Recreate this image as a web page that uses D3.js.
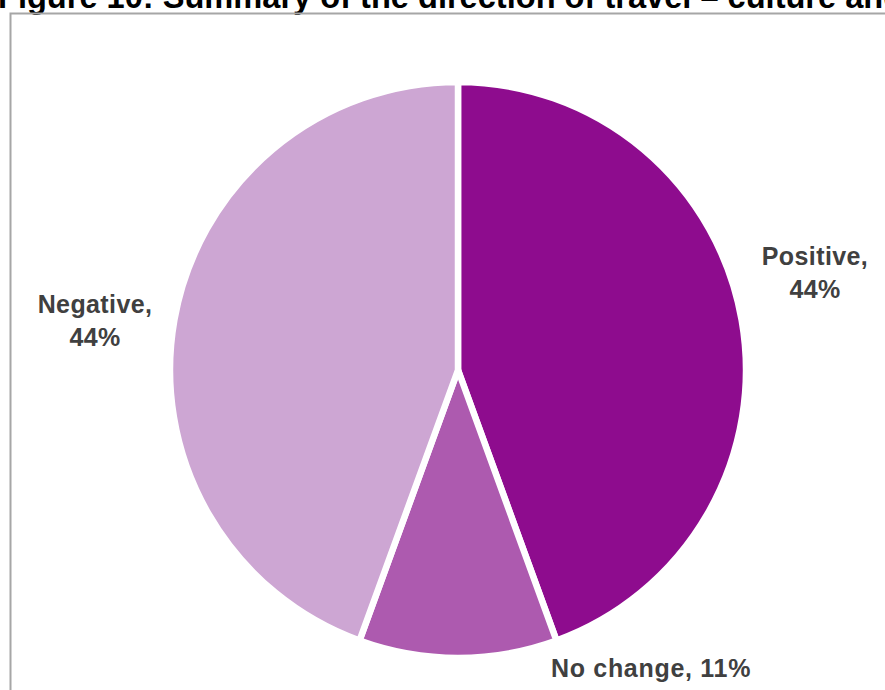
<!DOCTYPE html>
<html>
<head>
<meta charset="utf-8">
<script src="https://cdn.jsdelivr.net/npm/d3@7"></script>
<style>
  html, body { margin: 0; padding: 0; background: #fff; overflow: hidden; }
  svg { display: block; }
</style>
</head>
<body>
<svg id="chart" width="885" height="690"></svg>
<script>
// Direction of travel, share of indicators
const categories = ["Positive", "No change", "Negative"];
const shares = [44, 11, 44];
const sliceColours = ["#8e0c8e", "#ad5aaf", "#cda6d3"];
const titleText = "Figure 10: Summary of the direction of travel \u2013 culture and heritage";

const W = 885, H = 690;
const svg = d3.select("#chart");

// Title (sits partly above the frame)
svg.append("text")
  .attr("x", -2)
  .attr("y", 8)
  .attr("font-family", "Liberation Sans, Arial, sans-serif")
  .attr("font-weight", "bold")
  .attr("font-size", 32.6)
  .attr("fill", "#000")
  .text(titleText);

// Chart frame
svg.append("rect")
  .attr("x", 10.5)
  .attr("y", 13.5)
  .attr("width", 1000)
  .attr("height", 1000)
  .attr("fill", "none")
  .attr("stroke", "#a6a6a6")
  .attr("stroke-width", 2);

const cx = 458, cy = 370, radius = 288;

const pie = d3.pie().sort(null).value(d => d.value);
const arc = d3.arc().innerRadius(0).outerRadius(radius);

const data = categories.map((c, i) => ({ name: c, value: shares[i], colour: sliceColours[i] }));
const arcs = pie(data);

const g = svg.append("g").attr("transform", `translate(${cx},${cy})`);

g.selectAll("path")
  .data(arcs)
  .join("path")
  .attr("d", arc)
  .attr("fill", d => d.data.colour)
  .attr("stroke", "#fff")
  .attr("stroke-width", 6.5)
  .attr("stroke-linejoin", "miter");

// Data labels, placed outside the pie next to each slice
const labelLayout = {
  "Positive": { dx: 357, dy: -105, lines: 2, spacing: 0.4 },
  "No change": { dx: 193, dy: 307, lines: 1, spacing: 0.7 },
  "Negative": { dx: -363, dy: -57, lines: 2, spacing: 0.4 }
};

const labelFont = { family: "Liberation Sans, Arial, sans-serif", size: 25 };

arcs.forEach(a => {
  const lay = labelLayout[a.data.name];
  const pct = a.data.value + "%";
  const t = g.append("text")
    .attr("x", lay.dx)
    .attr("y", lay.dy)
    .attr("text-anchor", "middle")
    .attr("font-family", labelFont.family)
    .attr("font-weight", "bold")
    .attr("font-size", labelFont.size)
    .attr("letter-spacing", lay.spacing)
    .attr("fill", "#404040");
  if (lay.lines === 2) {
    t.append("tspan").attr("x", lay.dx).attr("dy", 0).text(a.data.name + ",");
    t.append("tspan").attr("x", lay.dx).attr("dy", 33).text(pct);
  } else {
    t.text(a.data.name + ", " + pct);
  }
});
</script>
</body>
</html>
